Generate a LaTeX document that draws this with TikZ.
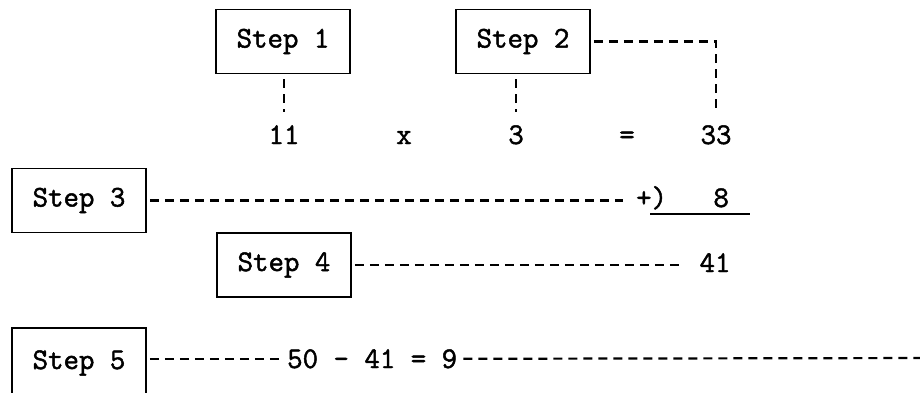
\documentclass[tikz,border=0pt]{standalone}
\usepackage{fontspec}
\newfontfamily\typefont{Latin Modern Mono}[FakeBold=1.6]
\begin{document}
\begin{tikzpicture}[x=1pt,y=-1pt,
  every node/.style={font=\fontsize{30}{36}\selectfont\typefont},
  stepbox/.style={draw,line width=1.8pt,minimum width=134pt,minimum height=64pt,inner sep=0pt},
  numtext/.style={inner sep=0pt,anchor=base},
  dashline/.style={line width=2.2pt,dash pattern=on 9pt off 6pt}]
\clip (0,0) rectangle (920,393);
\fill[white] (0,0) rectangle (920,393);
% boxes
\node[stepbox] (s1) at (283,41.5) {Step 1};
\node[stepbox] (s2) at (523,41.5) {Step 2};
\node[stepbox] (s3) at (79,200.5) {Step 3};
\node[stepbox] (s4) at (284,265) {Step 4};
\node[stepbox,minimum height=70pt] (s5) at (79,363) {Step 5};
% first row
\node[numtext] (n11) at (284,144) {11};
\node[numtext] (nx) at (404,144) {x};
\node[numtext] (n3) at (516,144) {3};
\node[numtext] (neq) at (627,144) {=};
\node[numtext] (n33) at (716,144) {33};
% addition
\node[numtext,anchor=base west] (plus) at (636,207) {+)~~~8};
\draw[line width=1.8pt] (650,214) -- (750,214);
\node[numtext] (n41) at (715,272) {41};
% last row
\node[numtext,anchor=base west] (expr) at (287,368) {50 - 41 = 9};
\coordinate (rend) at (935,358);
% connectors
\draw[dashline,shorten <=5pt,shorten >=13pt] (n11.north |- s1.south) -- (n11.north);
\draw[dashline,shorten <=5pt,shorten >=13pt] (n3.north |- s2.south) -- (n3.north);
\draw[dashline,shorten <=3pt,shorten >=16pt] (s2.east) -| (n33.north);
\draw[dashline,shorten <=3pt,shorten >=13pt] (s3.east) -- (s3.east -| plus.west);
\draw[dashline,shorten <=3pt,shorten >=20pt] (s4.east) -- (s4.east -| n41.west);
\draw[dashline,shorten <=3pt,shorten >=5pt] (s5.east |- expr.west) -- (expr.west);
\draw[dashline,shorten <=6pt] (expr.east) -- (rend);
\end{tikzpicture}
\end{document}
